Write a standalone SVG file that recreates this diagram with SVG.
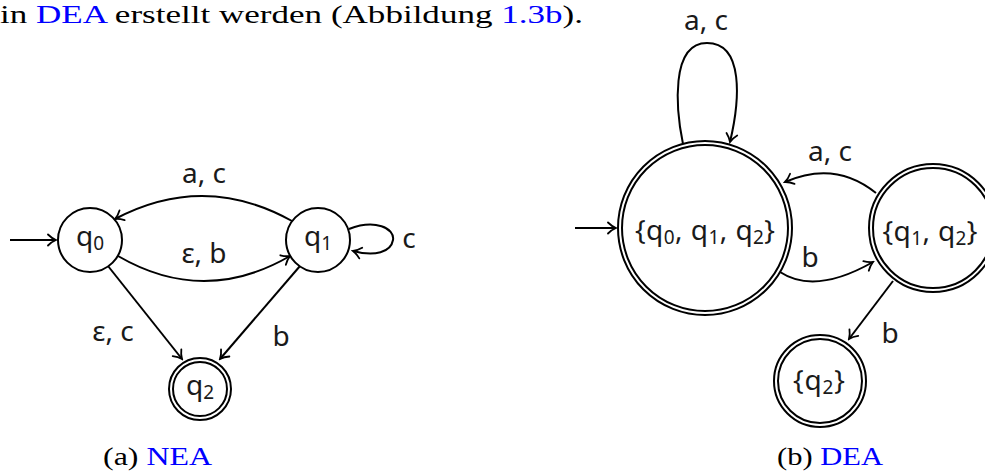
<svg xmlns="http://www.w3.org/2000/svg" width="985" height="473" viewBox="0 0 985 473">
<style>
.st{fill:#fff;stroke:#000;stroke-width:2}
.ed{fill:none;stroke:#000;stroke-width:2;marker-end:url(#arr)}
.m{font-family:"Noto Sans","DejaVu Sans",sans-serif;font-size:28px;fill:#1a1a1a;text-anchor:middle}
.sub{font-size:19px}
.cap{font-family:"Liberation Serif","Times New Roman",serif;font-size:25px;fill:#000}
.lnk{fill:#0000ff}
</style>
<defs>
<marker id="arr" viewBox="-10 -7 12 14" refX="0" refY="0" markerWidth="12" markerHeight="14" markerUnits="userSpaceOnUse" orient="auto">
<path d="M-8,-5.5 C-5,-2.5 -2,-0.8 0,0 C-2,0.8 -5,2.5 -8,5.5" fill="none" stroke="#000" stroke-width="1.8" stroke-linecap="round"/>
</marker>
</defs>
<text class="cap" x="0" y="23" font-size="28" textLength="583" lengthAdjust="spacingAndGlyphs">in <tspan class="lnk">DEA</tspan> erstellt werden (Abbildung <tspan class="lnk">1.3b</tspan>).</text>

<g id="connectors">
<path class="ed" d="M10,240 L56,240"/>
<path class="ed" d="M292,221 Q204,172 115,219"/>
<path class="ed" d="M118,256 Q204,306 290,256"/>
<path class="ed" d="M108,266 L182,359"/>
<path class="ed" d="M300,266 L220,359"/>
<path class="ed" d="M349,229 C375,219 395,228 393,240 C391,252 375,257 353,251"/>
<path class="ed" d="M575,228 L616,228"/>
<path class="ed" d="M683,144 C676,110 670,43 707,43 C744,43 740,100 730,142"/>
<path class="ed" d="M876,193 Q835,160 785,182"/>
<path class="ed" d="M780,272 Q815,295 873,262"/>
<path class="ed" d="M893,281 L849,339"/>
</g>
<g id="edge-labels">
<text class="m" x="204" y="183">a, c</text>
<text class="m" x="204" y="263">ε, b</text>
<text class="m" x="113" y="341">ε, c</text>
<text class="m" x="281" y="346">b</text>
<text class="m" x="409" y="248">c</text>
<text class="m" x="706" y="30">a, c</text>
<text class="m" x="830" y="161">a, c</text>
<text class="m" x="810" y="267">b</text>
<text class="m" x="890" y="343">b</text>
</g>

<g id="nea-q0">
<circle class="st" cx="90" cy="240" r="32"/>
<text class="m" x="90" y="246">q<tspan class="sub" dy="4">0</tspan></text>
</g>
<g id="nea-q1">
<circle class="st" cx="318" cy="240" r="32"/>
<text class="m" x="318" y="246">q<tspan class="sub" dy="4">1</tspan></text>
</g>
<g id="nea-q2">
<circle class="st" cx="200" cy="389" r="31"/>
<circle class="st" cx="200" cy="389" r="27" fill="none"/>
<text class="m" x="200" y="395">q<tspan class="sub" dy="4">2</tspan></text>
</g>

<g id="dea-q012">
<circle class="st" cx="705" cy="228" r="87"/>
<circle class="st" cx="705" cy="228" r="83"/>
<text class="m" x="705" y="240" textLength="140">{q<tspan class="sub" dy="4">0</tspan><tspan dy="-4">, q</tspan><tspan class="sub" dy="4">1</tspan><tspan dy="-4">, q</tspan><tspan class="sub" dy="4">2</tspan><tspan dy="-4">}</tspan></text>
</g>
<g id="dea-q12">
<circle class="st" cx="933" cy="228" r="64"/>
<circle class="st" cx="933" cy="228" r="60"/>
<text class="m" x="930" y="241" textLength="95">{q<tspan class="sub" dy="4">1</tspan><tspan dy="-4">, q</tspan><tspan class="sub" dy="4">2</tspan><tspan dy="-4">}</tspan></text>
</g>
<g id="dea-q2">
<circle class="st" cx="820" cy="381" r="46"/>
<circle class="st" cx="820" cy="381" r="42"/>
<text class="m" x="819" y="390" textLength="52">{q<tspan class="sub" dy="4">2</tspan><tspan dy="-4">}</tspan></text>
</g>

<text class="cap" x="103" y="465" textLength="109" lengthAdjust="spacingAndGlyphs">(a) <tspan class="lnk">NEA</tspan></text>
<text class="cap" x="777" y="465" textLength="106" lengthAdjust="spacingAndGlyphs">(b) <tspan class="lnk">DEA</tspan></text>
</svg>
